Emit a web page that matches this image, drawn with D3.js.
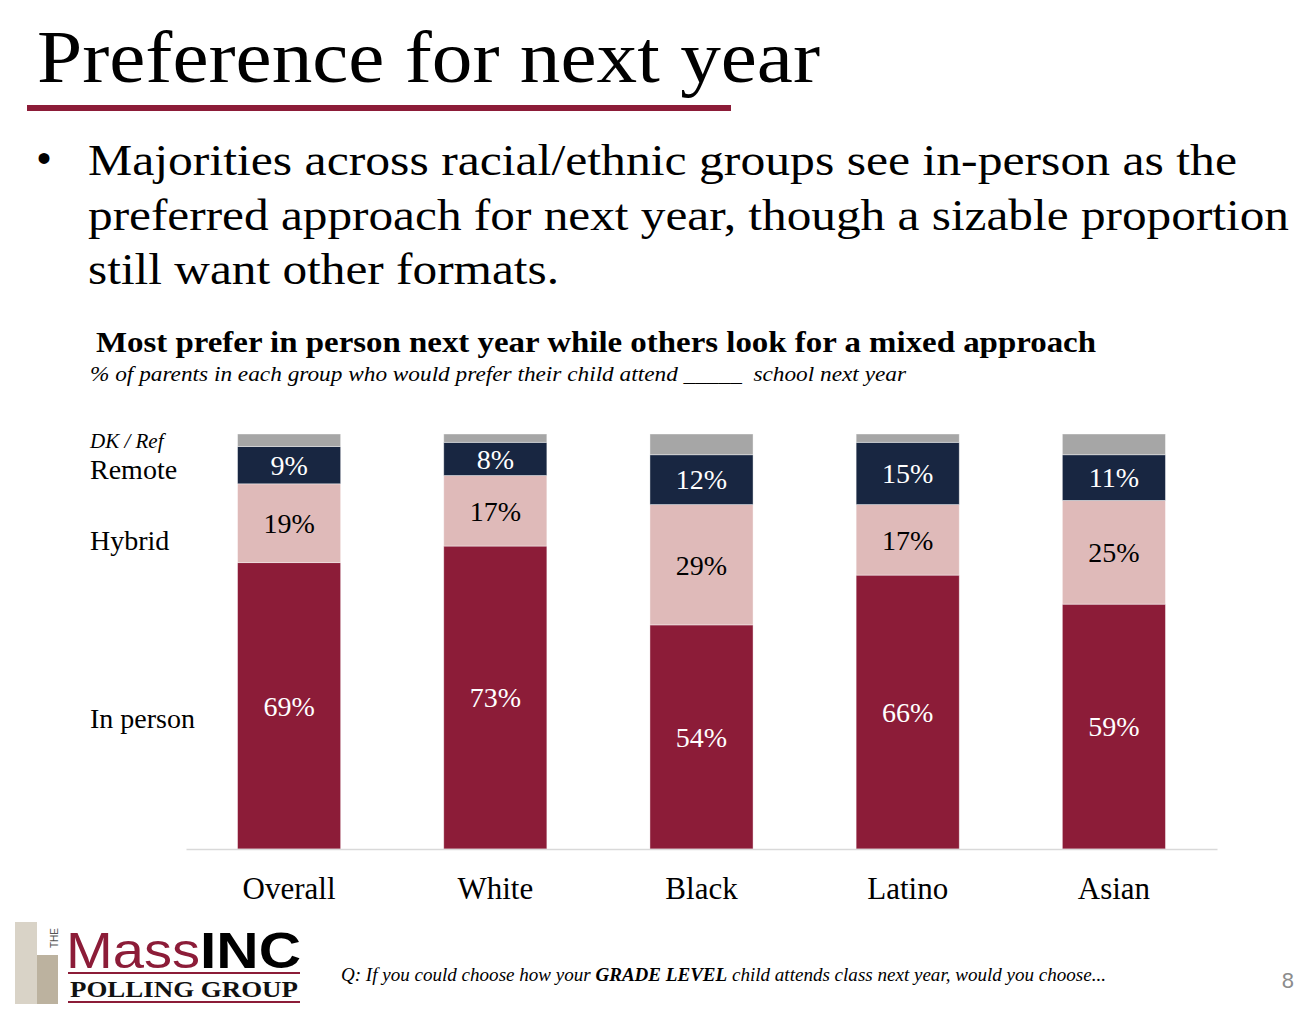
<!DOCTYPE html>
<meta charset="utf-8">
<style>
body { margin: 0; background: #fff; }
svg { font-family: "Liberation Serif", "DejaVu Serif", serif; }
</style>
<body>
<script src="https://cdn.jsdelivr.net/npm/d3@7"></script>
<script>

var groups = ["Overall", "White", "Black", "Latino", "Asian"];
var inPerson = [69, 73, 54, 66, 59];
var hybrid   = [19, 17, 29, 17, 25];
var remote   = [9, 8, 12, 15, 11];
var dkRef    = [3, 2, 5, 2, 5];

var seriesNames = ["In person", "Hybrid", "Remote", "DK / Ref"];
var seriesColors = ["#8c1c38", "#dfbab9", "#182641", "#a6a6a6"];
var labelColors = ["#fff", "#000", "#fff", null];

var W = 1306, H = 1012;

var svg = d3.select("body").append("svg")
    .attr("width", W)
    .attr("height", H);

// header
svg.append("text")
    .attr("x", 37).attr("y", 82)
    .attr("font-size", 74)
    .attr("textLength", 783).attr("lengthAdjust", "spacingAndGlyphs")
    .text("Preference for next year");

svg.append("rect")
    .attr("x", 27).attr("y", 105)
    .attr("width", 704).attr("height", 6)
    .attr("fill", "#8c1c38");

svg.append("text")
    .attr("x", 37).attr("y", 172)
    .attr("font-size", 40)
    .attr("font-family", "Liberation Sans, Arial, sans-serif")
    .text("•");

var bullet = [
  {t: "Majorities across racial/ethnic groups see in-person as the", w: 1149},
  {t: "preferred approach for next year, though a sizable proportion", w: 1201},
  {t: "still want other formats.", w: 471}
];
svg.selectAll("text.bullet")
    .data(bullet)
  .enter().append("text")
    .attr("class", "bullet")
    .attr("x", 88)
    .attr("y", function(d, i) { return 175 + i * 54.5; })
    .attr("font-size", 45)
    .attr("textLength", function(d) { return d.w; })
    .attr("lengthAdjust", "spacingAndGlyphs")
    .text(function(d) { return d.t; });

svg.append("text")
    .attr("x", 96).attr("y", 352)
    .attr("font-size", 30).attr("font-weight", "bold")
    .attr("textLength", 1000).attr("lengthAdjust", "spacingAndGlyphs")
    .text("Most prefer in person next year while others look for a mixed approach");

svg.append("text")
    .attr("x", 90).attr("y", 381)
    .attr("font-size", 22).attr("font-style", "italic")
    .attr("textLength", 816).attr("lengthAdjust", "spacingAndGlyphs")
    .attr("xml:space", "preserve")
    .text("% of parents in each group who would prefer their child attend _____  school next year");

// chart
var x = d3.scaleBand()
    .domain(groups)
    .range([186, 1217])
    .paddingInner(0.5)
    .paddingOuter(0.25);

var y = d3.scaleLinear()
    .domain([0, 100])
    .range([849, 434]);

var rows = groups.map(function(g, i) {
  return {group: g, "In person": inPerson[i], "Hybrid": hybrid[i], "Remote": remote[i], "DK / Ref": dkRef[i]};
});

var stacked = d3.stack().keys(seriesNames)(rows);

var layer = svg.selectAll("g.layer")
    .data(stacked)
  .enter().append("g")
    .attr("class", "layer")
    .attr("fill", function(d, i) { return seriesColors[i]; });

layer.selectAll("rect")
    .data(function(d) { return d; })
  .enter().append("rect")
    .attr("x", function(d) { return x(d.data.group); })
    .attr("y", function(d) { return y(d[1]); })
    .attr("width", x.bandwidth())
    .attr("height", function(d) { return y(d[0]) - y(d[1]); })
    .attr("stroke", "#fff")
    .attr("stroke-opacity", 0.5)
    .attr("stroke-width", 0.8);

stacked.forEach(function(s, i) {
  if (!labelColors[i]) return;
  svg.append("g").selectAll("text")
      .data(s)
    .enter().append("text")
      .attr("x", function(d) { return x(d.data.group) + x.bandwidth() / 2; })
      .attr("y", function(d) { return (y(d[0]) + y(d[1])) / 2; })
      .attr("dy", "0.35em")
      .attr("text-anchor", "middle")
      .attr("font-size", 28)
      .attr("fill", labelColors[i])
      .text(function(d) { return (d[1] - d[0]) + "%"; });
});

// baseline axis
var xAxis = svg.append("g")
    .attr("transform", "translate(0," + y(0) + ")")
    .call(d3.axisBottom(x).tickSize(0).tickPadding(28));
xAxis.select(".domain").attr("stroke", "#d9d9d9").attr("stroke-width", 1.5);
xAxis.selectAll(".tick text")
    .attr("font-family", "Liberation Serif, serif")
    .attr("font-size", 31)
    .attr("fill", "#000");

// series labels at left
var legendY = [718, 540, 469, 441];
svg.selectAll("text.legend")
    .data(seriesNames)
  .enter().append("text")
    .attr("class", "legend")
    .attr("x", 90)
    .attr("y", function(d, i) { return legendY[i]; })
    .attr("dy", "0.35em")
    .attr("font-size", function(d, i) { return i === 3 ? 21 : 28; })
    .attr("font-style", function(d, i) { return i === 3 ? "italic" : "normal"; })
    .text(function(d) { return d; });

// footnote
var foot = svg.append("text")
    .attr("x", 341).attr("y", 981)
    .attr("font-size", 18).attr("font-style", "italic")
    .attr("textLength", 765).attr("lengthAdjust", "spacingAndGlyphs");
foot.append("tspan").text("Q: If you could choose how your ");
foot.append("tspan").attr("font-weight", "bold").text("GRADE LEVEL");
foot.append("tspan").text(" child attends class next year, would you choose...");

svg.append("text")
    .attr("x", 1294).attr("y", 988)
    .attr("text-anchor", "end")
    .attr("font-size", 22)
    .attr("font-family", "Liberation Sans Narrow, Liberation Sans, sans-serif")
    .attr("fill", "#8c8c8c")
    .text("8");

// logo
var logo = svg.append("g");
logo.append("rect").attr("x", 15).attr("y", 922).attr("width", 22).attr("height", 82).attr("fill", "#d9d3c7");
logo.append("rect").attr("x", 37).attr("y", 955).attr("width", 21).attr("height", 49).attr("fill", "#bcb29f");
logo.append("text")
    .attr("transform", "translate(58,948) rotate(-90)")
    .attr("font-size", 10)
    .attr("font-family", "Liberation Sans, sans-serif")
    .attr("fill", "#555")
    .text("THE");
logo.append("text")
    .attr("x", 66).attr("y", 968)
    .attr("font-size", 50)
    .attr("font-family", "Liberation Sans, sans-serif")
    .attr("fill", "#8c1c38")
    .attr("textLength", 134).attr("lengthAdjust", "spacingAndGlyphs")
    .text("Mass");
logo.append("text")
    .attr("x", 200).attr("y", 968)
    .attr("font-size", 50).attr("font-weight", "bold")
    .attr("font-family", "Liberation Sans, sans-serif")
    .attr("fill", "#000")
    .attr("textLength", 101).attr("lengthAdjust", "spacingAndGlyphs")
    .text("INC");
logo.append("rect").attr("x", 68).attr("y", 972).attr("width", 232).attr("height", 2).attr("fill", "#8c1c38");
logo.append("text")
    .attr("x", 70).attr("y", 997)
    .attr("font-size", 23).attr("font-weight", "bold")
    .attr("fill", "#111")
    .attr("textLength", 228).attr("lengthAdjust", "spacingAndGlyphs")
    .text("POLLING GROUP");
logo.append("rect").attr("x", 68).attr("y", 1001).attr("width", 232).attr("height", 2).attr("fill", "#8c1c38");

</script>
